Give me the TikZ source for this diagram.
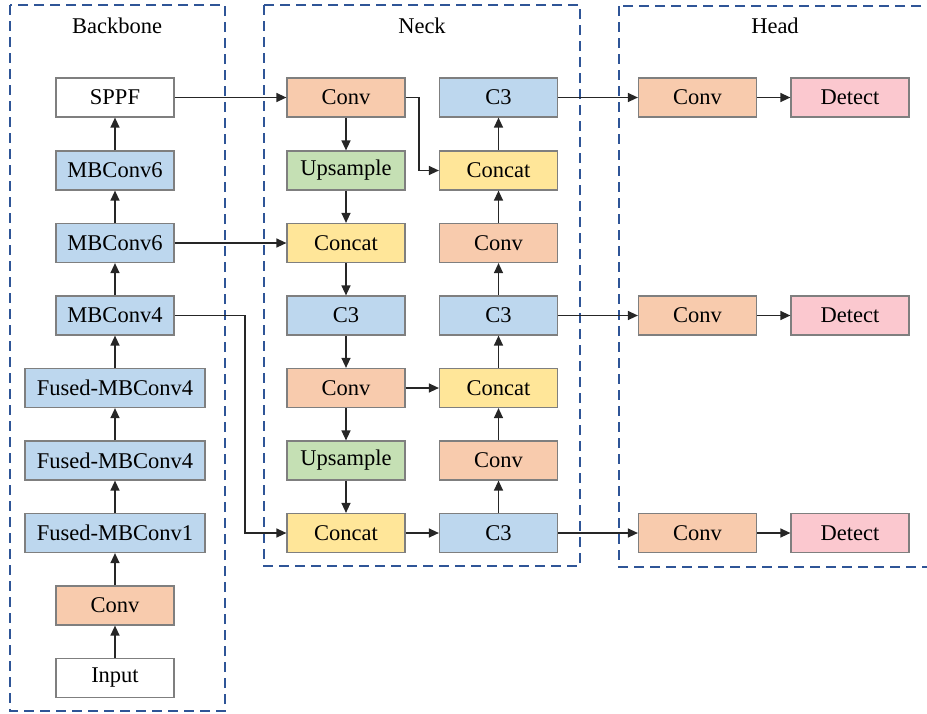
\documentclass[tikz,border=0pt]{standalone}
\usepackage{fontspec}
\setmainfont{Liberation Serif}
\usetikzlibrary{arrows.meta}

\definecolor{bluefill}{HTML}{BDD7EE}
\definecolor{orangefill}{HTML}{F8CBAD}
\definecolor{greenfill}{HTML}{C5E0B4}
\definecolor{yellowfill}{HTML}{FFE699}
\definecolor{pinkfill}{HTML}{FBC8CF}
\definecolor{boxline}{HTML}{7F7F7F}
\definecolor{stageline}{HTML}{2F5597}

\tikzset{
  blk/.style={draw=boxline, line width=1.2pt, minimum width=118pt, minimum height=39pt,
    inner sep=0pt, font=\fontsize{22.5}{26}\selectfont},
  wideblk/.style={blk, minimum width=180pt},
  plainblk/.style={blk, fill=white},
  mbblk/.style={blk, fill=bluefill},
  convblk/.style={blk, fill=orangefill},
  upblk/.style={blk, fill=greenfill},
  catblk/.style={blk, fill=yellowfill},
  detblk/.style={blk, fill=pinkfill},
  stage/.style={draw=stageline, line width=1.3pt, dash pattern=on 10pt off 6pt},
  stagename/.style={font=\fontsize{22.5}{26}\selectfont},
  flow/.style={-{Triangle[length=10pt,width=9pt]}, line width=1.3pt, draw=black!85},
}

\begin{document}
\begin{tikzpicture}[x=1pt, y=-1pt]
	\useasboundingbox (0,0) rectangle (927,713);
	\clip (0,0) rectangle (927,713);

	% stages
	\draw[stage] (10,5) rectangle (225,711);
	\draw[stage] (264,5) rectangle (580,566);
	\draw[stage] (619,6) rectangle (945,567);
	\node[stagename] (lbb) at (117,26) {Backbone};
	\node[stagename] (lneck) at (422,26) {Neck};
	\node[stagename] (lhead) at (775,26) {Head};

	% backbone
	\node[plainblk] (sppf) at (115,97.5) {SPPF};
	\node[mbblk] (mbsix) at (115,170.5) {MBConv6};
	\node[mbblk] (mbfive) at (115,243) {MBConv6};
	\node[mbblk] (mbfour) at (115,315.5) {MBConv4};
	\node[mbblk, wideblk] (fmbthree) at (115,388) {Fused-MBConv4};
	\node[mbblk, wideblk] (fmbtwo) at (115,460.5) {Fused-MBConv4};
	\node[mbblk, wideblk] (fmbone) at (115,533) {Fused-MBConv1};
	\node[convblk] (bconv) at (115,605.5) {Conv};
	\node[plainblk] (input) at (115,678) {Input};

	% neck, left column
	\node[convblk] (nconva) at (346,97.5) {Conv};
	\node[upblk] (nupa) at (346,170.5) {Upsample};
	\node[catblk] (ncata) at (346,243) {Concat};
	\node[mbblk] (nc3a) at (346,315.5) {C3};
	\node[convblk] (nconvb) at (346,388) {Conv};
	\node[upblk] (nupb) at (346,460.5) {Upsample};
	\node[catblk] (ncatb) at (346,533) {Concat};

	% neck, right column
	\node[mbblk] (pc3a) at (498.5,97.5) {C3};
	\node[catblk] (pcata) at (498.5,170.5) {Concat};
	\node[convblk] (pconva) at (498.5,243) {Conv};
	\node[mbblk] (pc3b) at (498.5,315.5) {C3};
	\node[catblk] (pcatb) at (498.5,388) {Concat};
	\node[convblk] (pconvb) at (498.5,460.5) {Conv};
	\node[mbblk] (pc3c) at (498.5,533) {C3};

	% head
	\node[convblk] (hconva) at (697.5,97.5) {Conv};
	\node[detblk] (deta) at (850,97.5) {Detect};
	\node[convblk] (hconvb) at (697.5,315.5) {Conv};
	\node[detblk] (detb) at (850,315.5) {Detect};
	\node[convblk] (hconvc) at (697.5,533) {Conv};
	\node[detblk] (detc) at (850,533) {Detect};

	\coordinate (bend4) at (245,315.5);
	\coordinate (bendc) at (419,97.5);

	% connectors
	\draw[flow] (input) -- (bconv);
	\draw[flow] (bconv) -- (fmbone);
	\draw[flow] (fmbone) -- (fmbtwo);
	\draw[flow] (fmbtwo) -- (fmbthree);
	\draw[flow] (fmbthree) -- (mbfour);
	\draw[flow] (mbfour) -- (mbfive);
	\draw[flow] (mbfive) -- (mbsix);
	\draw[flow] (mbsix) -- (sppf);

	\draw[flow] (sppf) -- (nconva);
	\draw[flow] (mbfive) -- (ncata);
	\draw[flow] (mbfour) -- (bend4) |- (ncatb);

	\draw[flow] (nconva) -- (nupa);
	\draw[flow] (nupa) -- (ncata);
	\draw[flow] (ncata) -- (nc3a);
	\draw[flow] (nc3a) -- (nconvb);
	\draw[flow] (nconvb) -- (nupb);
	\draw[flow] (nupb) -- (ncatb);

	\draw[flow] (nconva) -- (bendc) |- (pcata);
	\draw[flow] (nconvb) -- (pcatb);
	\draw[flow] (ncatb) -- (pc3c);

	\draw[flow] (pc3c) -- (pconvb);
	\draw[flow] (pconvb) -- (pcatb);
	\draw[flow] (pcatb) -- (pc3b);
	\draw[flow] (pc3b) -- (pconva);
	\draw[flow] (pconva) -- (pcata);
	\draw[flow] (pcata) -- (pc3a);

	\draw[flow] (pc3a) -- (hconva);
	\draw[flow] (hconva) -- (deta);
	\draw[flow] (pc3b) -- (hconvb);
	\draw[flow] (hconvb) -- (detb);
	\draw[flow] (pc3c) -- (hconvc);
	\draw[flow] (hconvc) -- (detc);
\end{tikzpicture}
\end{document}
